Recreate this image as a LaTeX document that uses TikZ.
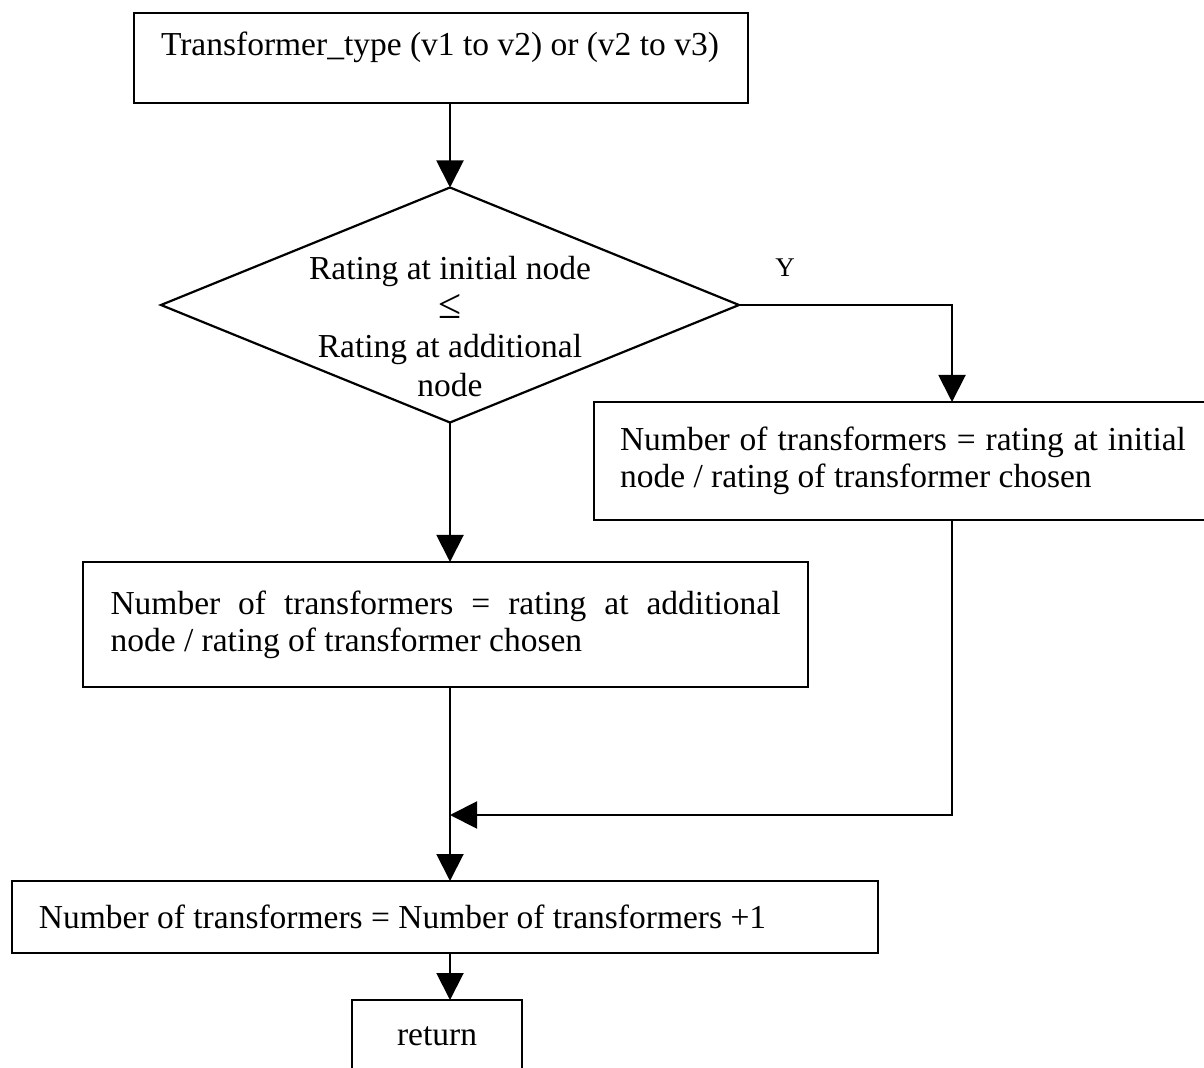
\documentclass[tikz,border=0pt]{standalone}
\usepackage{fontspec}
\setmainfont{Liberation Serif}
\usepackage{tikz}
\usetikzlibrary{shapes.geometric}
\usetikzlibrary{arrows.meta}
\newcommand{\boxfont}{\fontsize{16.75}{18.5}\selectfont}
\newcommand{\testfont}{\fontsize{16.75}{19.5}\selectfont}
\tikzstyle{procbox}=[draw, rectangle, line width=1.1pt, anchor=north west, inner ysep=0pt, font=\boxfont]
\tikzstyle{decision}=[draw, diamond, line width=1.1pt, inner sep=0pt]
\tikzstyle{flowline}=[line width=1pt, -{Triangle[length=13.5pt, width=13.5pt]}]
\tikzstyle{flowchart}=[x=0.5pt, y=-0.5pt,
                       % Boxes are placed by their top left corner.
                       every node/.style={outer sep=0pt}]

\begin{document}
\begin{tikzpicture}[flowchart]
        \useasboundingbox (0, 0) rectangle (1204, 1068);
        \clip (0, 0) rectangle (1204, 1068);
        \node[procbox, align=flush left, text width=280pt, inner xsep=13.5pt,
              text height=21.5pt, text depth=23.5pt] (type) at (134, 13)
              {Transformer\_type (v1 to v2) or (v2 to v3)};
        \node[decision, minimum width=289pt, minimum height=117.5pt] (cmp) at (450, 305) {};
        \node[align=center, inner sep=0pt, font=\testfont] (cmptext) at (450, 327)
              {Rating at initial node\\{\fontsize{21}{19.5}\selectfont ≤}\\Rating at additional\\node};
        \node[font=\fontsize{13.5}{15}\selectfont] (yes) at (785, 268) {Y};
        \node[procbox, align=justify, text width=283pt, inner xsep=13pt, minimum height=59pt] (init) at (594, 402)
              {Number of transformers = rating at initial node / rating of transformer chosen};
        \node[procbox, align=justify, text width=335pt, inner xsep=13.75pt, minimum height=62.5pt] (addl) at (83, 562)
              {Number of transformers = rating at additional\linebreak node / rating of transformer chosen};
        \node[procbox, align=flush left, text width=406pt, inner xsep=13.5pt, minimum height=36pt] (count) at (12, 881)
              {Number of transformers = Number of transformers +1};
        \node[procbox, align=center, minimum width=85pt, minimum height=36pt] (ret) at (352, 1000) {return};
        \coordinate (ybend) at (952, 305);
        \coordinate (join) at (450, 815);
        \draw[flowline] (cmp.north |- type.south) -- (cmp.north);
        \draw[flowline] (cmp.east) -- (ybend) -- (ybend |- init.north);
        \draw[flowline] (cmp.south) -- (cmp.south |- addl.north);
        \draw[flowline] (ybend |- init.south) |- (join);
        \draw[flowline] (cmp.south |- addl.south) -- (cmp.south |- count.north);
        \draw[flowline] (cmp.south |- count.south) -- (cmp.south |- ret.north);
    \end{tikzpicture}
\end{document}
